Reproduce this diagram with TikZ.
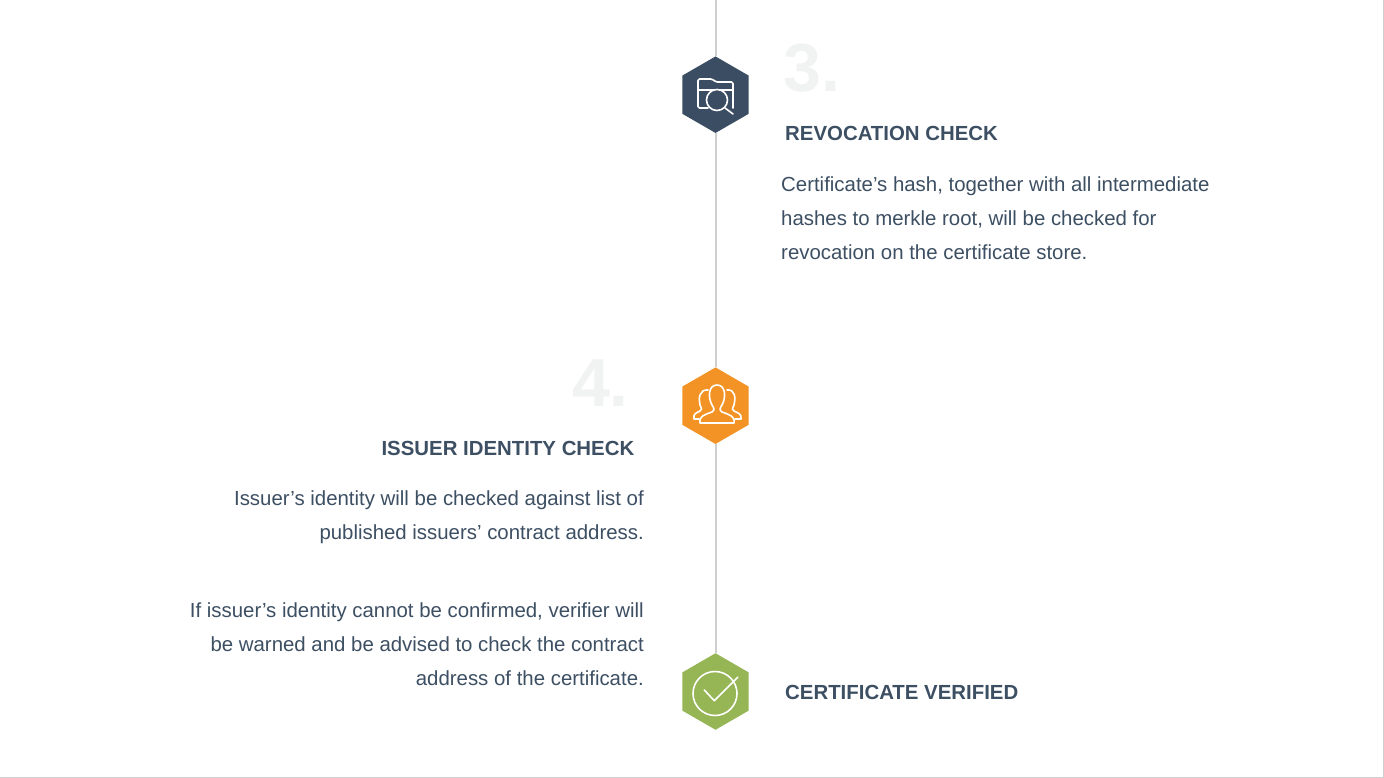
\documentclass[tikz,border=0pt]{standalone}
\usepackage{fontspec}
\setmainfont{Liberation Sans}
\usetikzlibrary{shapes.geometric}

\definecolor{slateblue}{HTML}{3A4D63}
\definecolor{hexorange}{HTML}{F39325}
\definecolor{hexgreen}{HTML}{96B555}
\definecolor{textblue}{HTML}{3D4F63}
\definecolor{numbergray}{HTML}{F1F2F2}
\definecolor{linegray}{HTML}{CFCFCF}

\tikzset{
    hexnode/.style={regular polygon, regular polygon sides=6, shape border rotate=30, minimum size=76.5pt, inner sep=0pt, outer sep=0pt},
    stepnumber/.style={font=\fontsize{68}{68}\selectfont\bfseries, text=numbergray, inner sep=0pt},
    steptitle/.style={font=\fontsize{20.4}{24}\selectfont\bfseries, text=textblue, inner sep=0pt},
    stepbody/.style={font=\fontsize{20.4}{34}\selectfont, text=textblue, inner sep=0pt},
    timeline/.style={draw=linegray, line width=2pt},
    iconline/.style={draw=white, line width=1.6pt, line join=round, line cap=round}
}

\begin{document}
\begin{tikzpicture}[x=1pt,y=-1pt]

    \useasboundingbox (0,0) rectangle (1384,778);
    \fill[white] (0,0) rectangle (1384,778);

    \coordinate (linetop) at (715.5,0);
    \coordinate (cornertr) at (1383.5,0);
    \coordinate (cornerbr) at (1383.5,777.5);
    \coordinate (cornerbl) at (0,777.5);

    \node[hexnode,fill=slateblue] (hexrevoke) at (715.5,94.7) {};
    \node[hexnode,fill=hexorange] (hexissuer) at (715.5,405.7) {};
    \node[hexnode,fill=hexgreen] (hexverified) at (715.5,691.5) {};

    \draw[timeline] (linetop) -- (hexrevoke);
    \draw[timeline] (hexrevoke) -- (hexissuer);
    \draw[timeline] (hexissuer) -- (hexverified);
    \draw[draw=linegray,line width=1pt] (cornertr) -- (cornerbr) -- (cornerbl);

    % folder with lens
    \begin{scope}[shift={(716,95)}]
        \draw[iconline,rounded corners=1.5pt] (-8,13) -- (-18,13) -- (-18,-16) -- (-4,-16) -- (0,-13) -- (17,-13) -- (17,13);
        \draw[iconline] (-18,-5) -- (17,-5);
        \draw[iconline,fill=slateblue] (1,5) circle (10.5);
        \draw[iconline] (9,13) -- (17,19);
    \end{scope}

    % people
    \begin{scope}[shift={(716,406)}]
        \draw[iconline] (-16,17) .. controls (-17,10) and (-12,9) .. (-4,6) .. controls (-1,4) and (-2,2) .. (-4,-1) .. controls (-8,-8) and (-8,-21) .. (1,-21) .. controls (10,-21) and (10,-8) .. (6,-1) .. controls (4,2) and (3,4) .. (6,6) .. controls (14,9) and (19,10) .. (18,17) -- cycle;
        \draw[iconline] (-8,-16) .. controls (-16,-17) and (-18,-8) .. (-16,-1) .. controls (-14,3) and (-14,4) .. (-16,5) .. controls (-20,7) and (-23,8) .. (-22,13) -- (-17,13);
        \draw[iconline] (11,-16) .. controls (19,-17) and (20,-8) .. (18,-1) .. controls (16,3) and (16,4) .. (18,5) .. controls (22,7) and (26,8) .. (25,13) -- (19,13);
    \end{scope}

    % check mark
    \begin{scope}[shift={(716,692)}]
        \draw[iconline] (-1,1.5) circle (22);
        \draw[iconline] (-11.7,-2) -- (-1.7,8.7) -- (21.7,-14.7);
    \end{scope}

    \node[stepnumber,anchor=base west] (numrevoke) at (783,92) {3.};
    \node[steptitle,anchor=base west] (titlerevoke) at (785,140.5) {REVOCATION CHECK};
    \node[stepbody,anchor=north west,align=left] (bodyrevoke) at (781,177) {Certificate’s hash, together with all intermediate\\hashes to merkle root, will be checked for\\revocation on the certificate store.};

    \node[stepnumber,anchor=base east] (numissuer) at (629,406) {4.};
    \node[steptitle,anchor=base east] (titleissuer) at (634.5,455) {ISSUER IDENTITY CHECK};
    \node[stepbody,anchor=north east,align=right] (bodyissuer) at (644,491) {Issuer’s identity will be checked against list of\\published issuers’ contract address.};
    \node[stepbody,anchor=north east,align=right] (bodywarned) at (644,603) {If issuer’s identity cannot be confirmed, verifier will\\be warned and be advised to check the contract\\address of the certificate.};

    \node[steptitle,anchor=base west] (titleverified) at (785,699) {CERTIFICATE VERIFIED};

\end{tikzpicture}
\end{document}
